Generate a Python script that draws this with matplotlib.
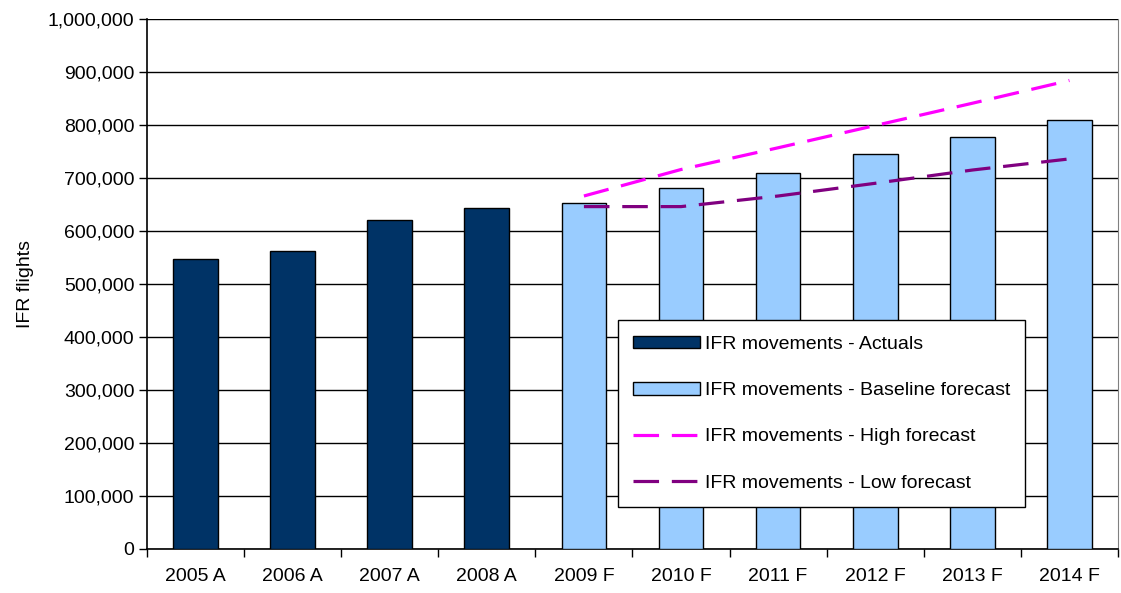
import matplotlib.pyplot as plt
import numpy as np

plt.rcParams['font.family'] = ['Liberation Sans', 'DejaVu Sans']

years = ['2005 A', '2006 A', '2007 A', '2008 A', '2009 F',
         '2010 F', '2011 F', '2012 F', '2013 F', '2014 F']
actuals = [547000, 562000, 621000, 643000]
baseline = [653000, 682000, 710000, 745000, 777000, 809000]
high = [666000, 716000, 757000, 799000, 841000, 884000]
low = [646000, 646000, 666000, 690000, 715000, 736000]

x = np.arange(len(years))
xa = x[:4]
xf = x[4:]

fig = plt.figure(figsize=(11.21, 5.93), dpi=100)
ax = fig.add_axes([0.1311, 0.0742, 0.8662, 0.8938])

b1 = ax.bar(xa, actuals, width=0.46, color='#003366', edgecolor='black', linewidth=1,
            label='IFR movements - Actuals', zorder=3)
b2 = ax.bar(xf, baseline, width=0.46, color='#99CCFF', edgecolor='black', linewidth=1,
            label='IFR movements - Baseline forecast', zorder=3)
l1, = ax.plot(xf, high, color='#FF00FF', lw=2.3, dashes=(8, 4),
              label='IFR movements - High forecast', zorder=4)
l2, = ax.plot(xf, low, color='#800080', lw=2.3, dashes=(8, 4),
              label='IFR movements - Low forecast', zorder=4)

ax.set_xlim(-0.5, 9.5)
ax.set_ylim(0, 1000000)
ax.set_yticks(np.arange(0, 1000001, 100000))
ax.yaxis.set_major_formatter(plt.FuncFormatter(lambda v, p: f'{int(v):,}'))
ax.set_xticks(x)
ax.set_xticklabels(years)
ax.set_xticks(np.arange(-0.5, 10, 1), minor=True)
ax.tick_params(axis='x', which='major', length=0, pad=14, labelsize=14)
ax.tick_params(axis='x', which='minor', length=6, width=1, direction='out')
ax.tick_params(axis='y', length=6, width=1, labelsize=14, pad=3)
ax.grid(axis='y', color='black', lw=1, zorder=0)

ax.spines['top'].set_visible(False)
ax.spines['right'].set_color('#808080')
ax.spines['left'].set_linewidth(1.2)
ax.spines['bottom'].set_linewidth(1.2)

ax.set_ylabel('IFR flights', fontsize=14, labelpad=10)

leg = ax.legend(handles=[b1, b2, l1, l2],
                loc='lower left', bbox_to_anchor=(0.485, 0.079, 0.419, 0.359),
                mode='expand', borderaxespad=0, fontsize=14, fancybox=False,
                framealpha=1, edgecolor='black', labelspacing=1.5, handlelength=3.4,
                handleheight=0.6, borderpad=0.8, handletextpad=0.3)
leg.get_frame().set_linewidth(1)

fig.savefig('out.png', dpi=100)
